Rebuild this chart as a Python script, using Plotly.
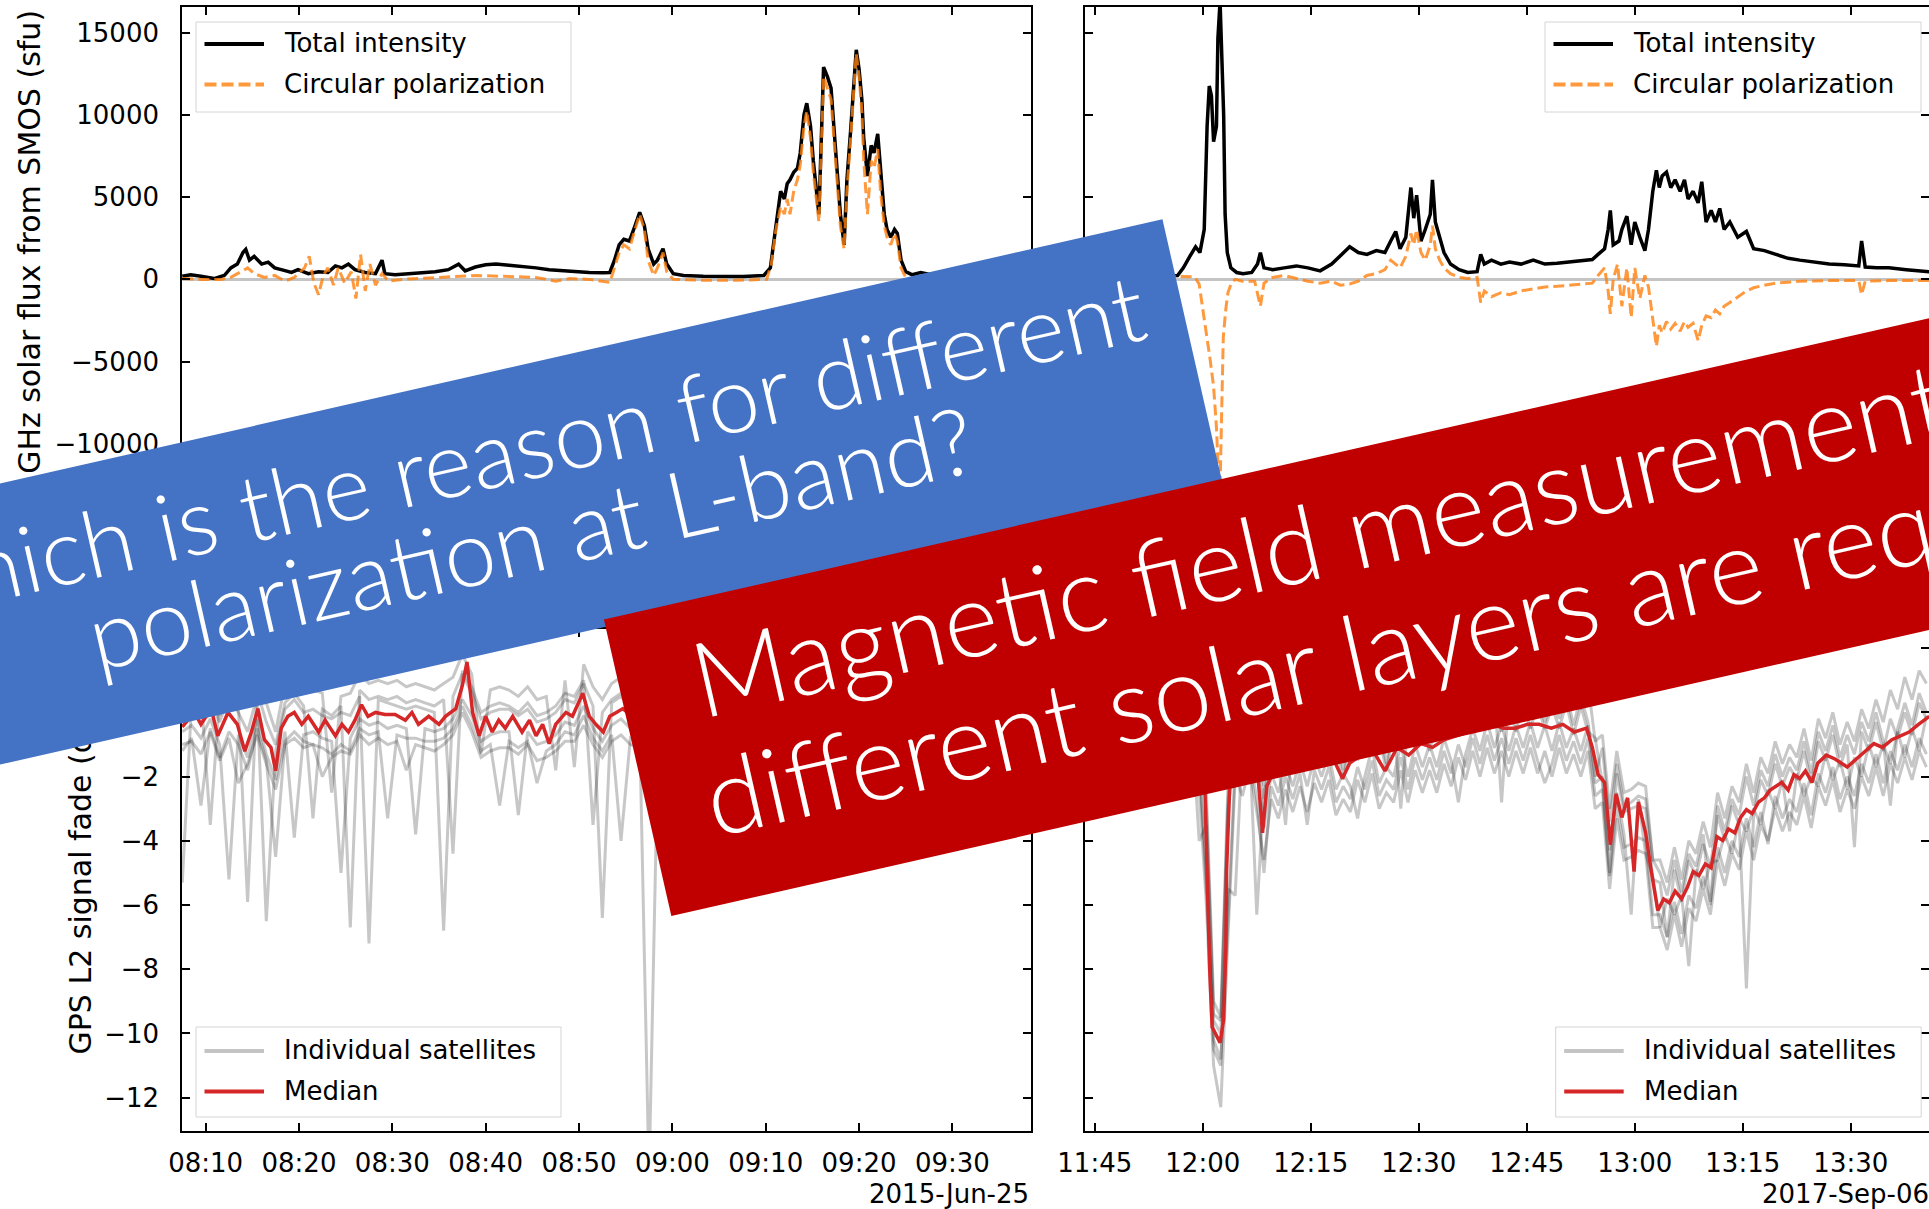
import math
import numpy as np
import pandas as pd
import plotly.graph_objects as go

# ---------------------------------------------------------------------------
# 2015-06-25 event -- SMOS 1.4 GHz solar flux (time: minutes after 00:00 UT, sfu)
# ---------------------------------------------------------------------------
flux_2015_total_t = [
    487.5, 488.4, 489.5, 490.9, 492.0, 492.7, 493.4, 494.0, 494.3, 494.7,
    495.2, 496.0, 496.7, 497.4, 498.1, 499.2, 499.9, 501.0, 502.1, 503.1,
    503.9, 504.6, 505.3, 506.0, 507.1, 508.2, 508.9, 509.2, 510.3, 511.7,
    513.2, 514.6, 516.0, 517.1, 517.8, 518.9, 520.0, 521.1, 522.5, 524.0,
    525.4, 526.8, 528.2, 529.7, 531.1, 532.6, 533.3, 533.8, 534.3, 534.8,
    535.4, 536.0, 536.5, 537.0, 537.4, 538.0, 538.4, 539.0, 539.4, 540.1,
    541.2, 543.3, 545.5, 547.6, 549.8, 550.5, 551.1, 551.6, 552.0, 552.3,
    552.6, 553.0, 553.4, 553.7, 554.1, 554.4, 554.8, 555.1, 555.7, 555.9,
    556.2, 556.6, 557.0, 557.3, 557.7, 558.0, 558.4, 558.7, 559.1, 559.5,
    559.7, 560.0, 560.3, 560.5, 560.9, 561.3, 561.6, 562.0, 562.3, 562.7,
    563.0, 563.4, 563.8, 564.1, 564.5, 565.0, 565.7, 566.6, 568.0, 571.0,
    575.0, 578.4]
flux_2015_total = [
    190, 280, 190, 50, 235, 700, 930, 1630, 1820, 1170,
    1400, 930, 1050, 700, 590, 420, 590, 350, 470, 420,
    820, 700, 930, 590, 420, 350, 1170, 350, 280, 330,
    420, 470, 590, 930, 520, 750, 890, 930, 860, 790,
    700, 590, 520, 470, 420, 400, 420, 1170, 2100, 2440,
    2330, 3260, 4070, 3260, 1860, 930, 1170, 1860, 930, 350,
    240, 190, 190, 170, 240, 700, 3260, 5350, 4890, 5820,
    6050, 6510, 6750, 7680, 10000, 10700, 9300, 7210, 3960, 7680,
    12900, 12330, 11630, 9300, 6510, 3960, 2100, 6050, 9070, 12330,
    13950, 12790, 10930, 8600, 6280, 8140, 7680, 8840, 6510, 3960,
    3030, 2560, 3030, 2790, 1170, 470, 280, 420, 250, 180,
    140, 110]

flux_2015_circ_t = [
    487.5, 489.5, 491.7, 492.7, 493.8, 494.5, 495.2, 496.3, 497.4, 498.5,
    499.5, 500.6, 501.1, 501.6, 502.1, 502.6, 503.1, 503.7, 504.2, 504.9,
    505.6, 506.1, 506.6, 507.1, 507.6, 508.2, 508.9, 509.6, 511.0, 512.5,
    514.6, 516.8, 518.9, 521.8, 525.4, 527.5, 529.0, 531.1, 533.3, 533.8,
    534.3, 534.8, 535.4, 536.0, 536.5, 537.0, 537.4, 538.0, 538.4, 539.0,
    539.4, 540.1, 543.3, 546.9, 550.1, 550.6, 551.1, 551.6, 552.0, 552.3,
    552.6, 553.0, 553.4, 553.7, 554.1, 554.4, 554.8, 555.1, 555.7, 555.9,
    556.2, 556.6, 557.0, 557.3, 557.7, 558.0, 558.4, 558.7, 559.1, 559.5,
    559.7, 560.0, 560.3, 560.5, 560.9, 561.3, 561.6, 562.0, 562.3, 562.7,
    563.0, 563.4, 563.8, 564.1, 564.5, 565.0, 565.9, 570.0, 578.4]
flux_2015_circ = [
    50, 0, 0, 120, 470, 700, 350, 120, 240, -110,
    120, 700, 1400, -230, -930, 240, 700, -350, 700, -230,
    470, -1160, 1510, -700, 930, -350, 350, -110, 0, 50,
    120, 190, 240, 190, 120, -110, 50, 0, -180, 700,
    1630, 2100, 1860, 3030, 3960, 3030, 1170, 240, 700, 1630,
    470, 0, -50, -50, 0, 930, 3030, 4420, 3960, 4890,
    3960, 5350, 6050, 6980, 9300, 10230, 8600, 6510, 3490, 6980,
    12330, 11630, 10930, 8600, 5820, 3260, 1860, 5350, 8600, 11860,
    13720, 12330, 10230, 7210, 3960, 7210, 6750, 7910, 5350, 3260,
    2560, 2100, 2790, 2330, 700, 120, 0, 0, 0]

# GPS L2 signal fade of the individual satellites (dB), one sample per minute
# starting 08:07:30 UT
gps_2015_first, gps_2015_last = 487.5, 577.5
gps_2015_sat1 = [
    -5.3, 0.3, -0.2, 0.4, -0.3, 0.5, 0.0, -0.6, 0.5, -6.5,
    -1.2, 0.1, 0.4, 0.0, 0.1, -0.1, -0.2, 0.0, -0.1, 0.5,
    -7.2, 0.4, 0.3, 0.2, 0.1, 0.2, 0.1, 0.0, -6.8, 0.5,
    1.2, 0.6, -0.2, 0.0, 0.1, 0.1, -0.1, 0.1, -0.3, -0.2,
    0.0, 0.4, 0.3, 0.9, 0.2, -6.4, 0.3, 0.5, 0.2, 0.1,
    0.3, 0.0, 0.2, 0.1, 0.3, 0.0, 0.2, 0.1, 0.2, 0.3,
    0.0, 0.1, 0.2, 0.1, 0.0, -0.3, -0.5, -0.2, -0.6, -0.4,
    -0.1, -0.5, -0.8, -0.3, -0.2, 0.0, 0.1, 0.2, 0.0, 0.1,
    0.2, 0.0, 0.1, 0.2, 0.1, 0.0, 0.2, 0.1, 0.0, 0.2,
    0.1]
gps_2015_sat2 = [
    -0.6, -0.4, -0.8, -0.2, -1.0, -5.2, -0.7, -1.4, -0.2, -1.3,
    -2.1, -0.6, -3.9, -0.7, -0.6, -0.8, -0.9, -5.0, -0.8, -0.2,
    -0.4, -0.3, -0.5, -0.4, -0.5, -3.8, -0.5, -0.6, -0.5, -0.2,
    0.4, -0.1, -0.9, -0.7, -0.6, -0.6, -3.2, -0.6, -1.0, -0.9,
    -0.7, -0.3, -0.4, 0.2, -0.5, -0.9, -0.4, -0.2, -0.5, -0.6,
    -14.5, -0.5, -0.4, -0.6, -0.5, -0.4, -0.6, -0.5, -0.4, -0.5,
    -0.6, -0.4, -0.5, -0.6, -0.7, -0.9, -1.2, -1.0, -1.3, -1.1,
    -0.9, -1.2, -1.5, -1.0, -0.8, -0.6, -0.5, -0.4, -0.6, -0.5,
    -0.4, -0.5, -0.6, -0.4, -0.5, -0.3, -0.4, -0.5, -0.6, -0.4,
    -0.5]
gps_2015_sat3 = [
    0.2, 0.6, 0.1, 0.7, -0.1, 0.6, 0.2, -5.9, 0.7, -0.3,
    -1.0, 0.3, 0.6, 0.2, -3.3, 0.1, -0.1, 0.2, -6.7, 0.7,
    0.4, 0.5, 0.4, 0.5, 0.3, 0.4, 0.3, 0.2, 0.4, -4.4,
    1.3, 0.8, 0.0, 0.2, 0.3, 0.2, 0.0, 0.3, -0.1, 0.0,
    0.2, 0.6, 0.5, 1.0, -3.5, 0.0, 0.4, 0.6, 0.3, 0.4,
    0.3, 0.5, 0.4, 0.3, 0.5, 0.4, 0.3, 0.5, 0.4, 0.3,
    0.4, 0.5, 0.3, 0.2, 0.3, 0.0, -0.2, 0.1, -0.3, -0.1,
    0.2, -0.2, -0.5, 0.0, 0.1, 0.3, 0.4, 0.3, 0.5, 0.4,
    0.3, 0.4, 0.5, 0.3, 0.4, 0.5, 0.3, 0.4, 0.3, 0.5,
    0.4]
gps_2015_sat4 = [
    -1.2, -0.8, -2.9, -0.5, -1.4, -0.6, -1.0, -1.8, -0.5, -1.5,
    -4.5, -0.9, -0.6, -0.9, -1.0, -1.1, -1.3, -1.0, -1.2, -0.5,
    -0.7, -0.6, -3.3, -0.7, -0.8, -0.8, -0.9, -0.9, -0.8, -0.5,
    0.2, -0.4, -1.2, -1.0, -2.9, -0.9, -1.1, -0.9, -2.2, -1.2,
    -1.0, -0.6, -0.7, -0.1, -0.8, -1.2, -0.7, -4.0, -0.8, -0.9,
    -0.8, -0.9, -0.7, -0.8, -0.9, -0.7, -0.8, -0.9, -0.8, -0.7,
    -0.8, -0.9, -0.7, -0.9, -1.0, -1.3, -1.6, -1.4, -1.8, -1.5,
    -1.2, -1.6, -2.0, -1.4, -1.1, -0.9, -0.8, -0.7, -0.9, -0.8,
    -0.7, -0.8, -0.9, -0.7, -0.8, -0.6, -0.7, -0.8, -0.9, -0.7,
    -0.8]
gps_2015_sat5 = [
    0.8, 1.2, 0.6, -3.5, 0.4, 1.1, 0.7, 0.2, 1.2, 0.3,
    -0.6, 0.9, 1.1, 0.8, 0.7, 0.6, -2.5, 0.5, 0.6, 1.2,
    0.9, 1.0, 0.9, 1.0, 0.8, 0.9, 0.8, 0.7, 0.9, 1.1,
    1.8, 1.2, -1.3, 0.7, 0.8, 0.7, 0.5, 0.8, 0.4, 0.5,
    -1.8, 1.0, -1.7, 1.5, 0.8, 0.4, 0.9, 1.1, 0.8, 0.9,
    0.8, 1.0, 0.9, 0.8, 1.0, 0.9, 0.8, 1.0, 0.9, 0.8,
    0.9, 1.0, 0.8, 0.7, 0.8, 0.5, 0.3, 0.6, 0.2, 0.4,
    0.7, 0.3, 0.0, 0.5, 0.6, 0.8, 0.9, 0.8, 1.0, 0.9,
    0.8, 0.9, 1.0, 0.8, 0.9, 1.0, 0.8, 0.9, 0.8, 1.0,
    0.9]
gps_2015_sat6 = [
    -1.0, -0.9, -1.3, -0.6, -1.5, -0.8, -2.2, -1.6, -0.7, -1.6,
    -2.4, -1.0, -0.8, -1.1, -1.0, -2.0, -1.4, -1.2, -1.3, -0.7,
    -1.0, -0.8, -1.0, -0.9, -1.8, -1.0, -1.1, -1.2, -1.0, -0.7,
    0.0, -0.6, -1.4, -1.2, -1.1, -1.1, -1.3, -1.0, -1.5, -1.4,
    -1.2, -0.9, -0.9, -0.4, -1.0, -1.4, -0.9, -0.7, -1.0, -1.1,
    -1.0, -1.1, -0.9, -1.0, -1.1, -0.9, -1.0, -1.1, -1.0, -0.9,
    -1.0, -1.1, -0.9, -1.1, -1.2, -1.5, -1.8, -1.6, -2.0, -1.7,
    -1.4, -1.8, -2.2, -1.6, -1.3, -1.1, -1.0, -0.9, -1.1, -1.0,
    -0.9, -1.0, -1.1, -0.9, -1.0, -0.8, -0.9, -1.0, -1.1, -0.9,
    -1.0]

gps_2015_median_t = [
    487.5, 488.8, 489.5, 490.6, 491.3, 492.4, 493.4, 494.2, 494.9, 495.6,
    496.3, 497.0, 497.5, 498.1, 498.8, 499.5, 500.3, 501.0, 502.1, 502.8,
    503.9, 504.6, 505.3, 506.0, 506.7, 507.4, 508.2, 509.2, 510.3, 511.4,
    512.1, 512.8, 513.9, 515.0, 515.7, 516.8, 517.5, 518.0, 518.6, 519.3,
    520.0, 520.7, 521.4, 522.1, 522.9, 523.9, 524.7, 525.4, 526.1, 526.8,
    527.5, 528.6, 529.3, 530.4, 531.1, 531.8, 532.6, 533.3, 534.0, 534.7,
    536.0, 538.0, 540.0, 544.0, 548.0, 552.0, 556.0, 560.0, 564.0, 570.0,
    578.4]
gps_2015_median = [
    -0.45, 0.0, -0.37, 0.12, -0.73, 0.0, -0.37, -1.21, -0.61, 0.12,
    -0.85, -1.09, -1.82, -0.49, -0.12, 0.0, -0.37, -0.12, -0.61, -0.24,
    -0.73, -0.37, -0.61, -0.24, 0.24, -0.12, 0.0, -0.06, -0.06, -0.24,
    0.0, -0.37, -0.12, -0.37, -0.12, 0.12, 0.84, 1.57, 0.0, -0.73,
    -0.12, -0.61, -0.24, -0.49, -0.12, -0.61, -0.24, -0.73, -0.37, -0.97,
    -0.37, 0.0, -0.12, 0.6, -0.12, -0.37, -0.61, -0.12, 0.0, 0.12,
    -0.2, -0.3, -0.2, -0.1, -0.2, -0.4, -0.7, -0.9, -0.3, -0.1,
    -0.1]

# ---------------------------------------------------------------------------
# 2017-09-06 event
# ---------------------------------------------------------------------------
flux_2017_total_t = [
    703.6, 708.0, 712.0, 716.5, 717.3, 718.2, 719.0, 719.6, 720.2, 720.6,
    720.9, 721.2, 721.5, 721.9, 722.1, 722.4, 722.6, 722.9, 723.1, 723.4,
    723.9, 724.7, 725.6, 726.8, 727.6, 728.0, 728.5, 729.7, 731.3, 733.0,
    734.6, 736.3, 737.9, 739.1, 740.4, 741.6, 742.8, 744.1, 745.3, 746.1,
    746.8, 747.4, 748.2, 748.9, 749.3, 749.7, 750.3, 750.9, 751.6, 751.9,
    752.3, 752.9, 753.5, 754.4, 755.6, 756.8, 758.1, 758.6, 759.1, 760.1,
    761.4, 762.6, 764.2, 765.9, 767.5, 769.2, 770.8, 772.5, 774.1, 774.9,
    775.8, 776.3, 776.6, 777.0, 777.8, 778.2, 778.9, 779.5, 780.0, 780.7,
    781.4, 781.9, 782.5, 783.0, 783.4, 783.8, 784.4, 785.0, 785.6, 786.3,
    786.9, 787.4, 788.1, 788.8, 789.3, 789.9, 790.6, 791.2, 791.8, 792.4,
    793.2, 794.3, 795.5, 796.5, 798.0, 799.6, 801.3, 802.9, 805.0, 807.0,
    809.1, 811.1, 811.5, 812.0, 813.6, 815.3, 817.7, 820.9]
flux_2017_total = [
    150, 150, 200, 240, 700, 1400, 1980, 1630, 3030, 9300,
    11750, 11160, 8370, 9300, 14650, 16900, 13490, 10000, 3960, 1630,
    700, 420, 350, 420, 930, 1630, 700, 590, 700, 820,
    700, 520, 930, 1400, 1980, 1630, 1520, 1750, 1630, 2330,
    2910, 1860, 2560, 5580, 3720, 5120, 2330, 3030, 3960, 6050,
    3490, 2560, 1630, 930, 590, 420, 470, 1520, 930, 1170,
    930, 1050, 930, 1170, 930, 980, 1050, 1120, 1210, 1520,
    1860, 3030, 4190, 2100, 2330, 3030, 3840, 2100, 3490, 2560,
    1750, 3030, 5350, 6630, 5580, 6280, 6510, 5580, 6050, 5350,
    6050, 4890, 5350, 4650, 5930, 3490, 4190, 3490, 4310, 3030,
    3490, 2560, 2910, 1860, 1750, 1520, 1280, 1170, 1050, 930,
    890, 820, 2330, 750, 700, 700, 590, 470]

flux_2017_circ_t = [
    703.6, 712.0, 716.5, 718.2, 718.9, 719.5, 720.0, 720.5, 721.0, 721.5,
    721.9, 722.15, 722.3, 722.45, 722.6, 722.85, 723.2, 723.5, 724.0, 724.5,
    725.5, 727.2, 728.0, 728.5, 729.7, 731.3, 733.0, 734.6, 736.3, 737.9,
    739.1, 740.4, 741.6, 742.8, 744.1, 745.3, 746.1, 746.8, 747.4, 748.2,
    748.9, 749.3, 749.7, 750.3, 750.9, 751.6, 751.9, 752.3, 752.9, 753.5,
    754.4, 755.6, 756.8, 758.1, 758.6, 759.1, 760.1, 761.4, 762.6, 764.2,
    765.9, 767.5, 769.2, 770.8, 772.5, 774.1, 774.9, 775.8, 776.3, 776.6,
    777.0, 777.6, 778.2, 778.9, 779.5, 780.0, 780.7, 781.4, 781.9, 782.5,
    783.0, 783.4, 783.8, 784.4, 785.0, 785.6, 786.3, 786.9, 787.4, 788.1,
    788.8, 789.3, 789.9, 790.6, 791.2, 791.8, 792.4, 793.2, 794.3, 795.5,
    796.5, 798.0, 799.6, 801.3, 802.9, 807.0, 811.1, 811.5, 812.0, 815.3,
    820.9]
flux_2017_circ = [
    100, 100, 190, 190, 150, -300, -1800, -3100, -4800, -6500,
    -9000, -11600, -14000, -11600, -7500, -3500, -1800, -800, -200, 0,
    -110, -110, -1620, -230, 120, 240, 50, -110, -230, -110,
    -350, -280, -110, 240, 350, 590, 1170, 930, 700, 1400,
    2790, 2100, 3030, 1630, 1170, 2100, 3260, 1860, 1170, 700,
    350, 120, 50, 120, -1400, -700, -1050, -810, -930, -700,
    -580, -460, -420, -350, -280, -230, 240, 700, -700, -2090,
    0, 930, -1630, 700, -2320, 700, -1160, 240, -460, -2320,
    -4070, -2790, -3250, -2560, -3020, -2670, -3140, -2560, -2910, -2670,
    -3720, -2790, -2210, -2320, -1860, -2090, -1630, -1400, -1050, -700,
    -510, -350, -230, -180, -110, -70, -70, -930, -110, -70,
    -70]

# GPS L2 signal fade of the individual satellites (dB), one sample per minute
# starting 11:43:30 UT
gps_2017_first, gps_2017_last = 703.5, 820.5
gps_2017_sat1 = [
    -0.5, -0.4, -0.6, -0.3, -0.5, -0.4, -0.6, -0.5, -0.3, -0.5,
    -0.4, -0.6, -0.5, -0.3, -0.6, -0.4, -4.0, -3.5, -9.6, -10.0,
    -3.0, -1.3, -0.4, -1.0, -6.3, -2.4, -2.0, -1.0, -1.7, -0.8,
    -1.7, -0.8, -1.5, -0.5, -1.5, -1.0, -2.1, -0.8, -1.5, -0.5,
    -1.2, -0.8, -1.8, -0.6, -1.2, -0.6, -1.1, -0.2, -1.2, -0.3,
    -0.9, -0.1, -0.7, 0.1, -0.6, 0.2, -0.5, 0.3, -0.6, 0.2,
    -0.6, 0.3, -0.5, 0.2, -0.5, 0.2, -0.5, 0.3, -0.7, 0.2,
    -0.6, -0.8, -2.2, -5.0, -1.9, -3.1, -3.0, -2.9, -3.0, -5.2,
    -5.3, -7.0, -4.9, -5.9, -4.6, -5.1, -4.1, -4.8, -3.2, -4.0,
    -2.9, -3.5, -8.6, -3.2, -2.1, -2.6, -1.6, -2.3, -1.7, -2.1,
    -1.2, -2.2, -0.9, -1.5, -0.7, -1.7, -1.0, -4.2, -0.6, -1.2,
    -0.3, -1.2, -0.2, -0.8, 0.0, -0.7, 0.3, -0.2]
gps_2017_sat2 = [
    -1.1, -1.0, -1.2, -0.9, -1.1, -1.0, -1.2, -1.1, -0.9, -1.1,
    -1.0, -1.2, -1.1, -0.9, -1.3, -1.4, -1.5, -5.0, -10.5, -11.0,
    -5.5, -5.7, -1.0, -1.7, -1.5, -3.6, -1.9, -2.5, -1.6, -2.3,
    -1.5, -2.3, -1.4, -2.0, -1.3, -2.4, -1.9, -2.3, -3.3, -2.0,
    -1.1, -2.2, -1.7, -2.0, -1.0, -2.0, -1.0, -1.7, -1.0, -1.7,
    -0.8, -1.5, -2.8, -1.3, -0.5, -1.2, -0.3, -1.1, -0.4, -1.2,
    -0.4, -1.1, -0.3, -1.1, -0.4, -1.2, -0.3, -1.1, -0.5, -1.2,
    -0.4, -2.2, -2.0, -4.3, -2.5, -3.8, -6.3, -2.7, -4.4, -5.1,
    -6.7, -5.8, -6.3, -5.7, -7.9, -4.9, -5.5, -4.7, -4.6, -3.8,
    -4.4, -3.3, -3.7, -3.0, -3.5, -2.4, -3.0, -2.1, -3.7, -1.9,
    -2.6, -2.0, -2.3, -1.3, -2.1, -1.5, -2.4, -1.4, -2.0, -1.0,
    -1.7, -1.0, -1.6, -0.6, -1.4, -0.5, -1.2, -0.1]
gps_2017_sat3 = [
    -0.2, -0.1, -0.3, 0.0, -0.2, -0.1, -0.3, -0.2, 0.0, -0.2,
    -0.1, -0.3, -0.2, 0.0, -0.3, -0.2, -0.1, -2.5, -9.0, -9.5,
    -2.2, -0.3, -0.9, 0.0, -1.4, -2.7, -1.0, -1.6, -3.5, -0.6,
    -1.4, -0.6, -1.3, -0.3, -1.2, -0.7, -1.8, -0.6, -1.2, -0.3,
    -1.0, -0.5, -1.6, -0.3, -3.0, -0.3, -0.9, 0.0, -0.9, 0.0,
    -0.7, 0.2, -0.5, 0.4, -0.3, 0.5, -0.2, 0.6, -2.8, 0.5,
    -0.3, 0.6, -0.2, 0.6, -0.3, 0.5, -0.2, 0.6, -0.4, 0.5,
    -0.3, -2.0, -1.1, -3.4, -1.6, -2.9, -2.8, -2.6, -2.7, -4.6,
    -5.0, -5.7, -4.6, -5.6, -4.4, -4.8, -3.8, -6.0, -2.9, -3.7,
    -2.7, -3.2, -2.0, -2.9, -1.8, -2.3, -1.3, -2.0, -1.4, -1.8,
    -0.9, -1.9, -0.6, -1.2, -0.4, -1.4, -0.7, -1.3, -0.3, -0.9,
    0.0, -0.9, -2.9, -0.5, 0.3, -0.4, 0.6, 0.0]
gps_2017_sat4 = [
    -1.5, -1.4, -1.6, -1.3, -1.5, -1.4, -1.6, -1.5, -1.3, -1.5,
    -1.4, -1.6, -1.5, -1.3, -1.6, -1.7, -1.6, -5.5, -10.2, -10.8,
    -6.5, -1.6, -2.2, -1.3, -2.7, -5.0, -2.3, -2.9, -2.0, -2.7,
    -1.9, -3.5, -1.8, -2.4, -1.7, -2.8, -2.3, -2.7, -1.7, -2.4,
    -1.5, -2.6, -2.1, -2.4, -1.4, -2.4, -1.4, -2.1, -1.4, -2.1,
    -1.2, -1.9, -1.0, -1.7, -0.8, -1.6, -0.7, -1.5, -0.8, -1.6,
    -0.8, -1.5, -0.7, -1.5, -2.2, -1.6, -0.7, -1.5, -0.9, -1.6,
    -0.8, -2.6, -2.4, -5.1, -2.9, -4.2, -4.1, -3.9, -4.0, -6.3,
    -6.3, -7.0, -5.9, -6.9, -5.7, -6.1, -5.1, -5.9, -4.2, -5.0,
    -4.0, -4.5, -3.3, -4.2, -3.1, -4.1, -2.6, -3.3, -2.7, -3.1,
    -2.2, -3.2, -1.9, -2.5, -1.7, -2.7, -2.0, -2.6, -1.6, -2.2,
    -1.3, -2.2, -1.2, -1.8, -1.0, -1.7, -0.8, -1.3]
gps_2017_sat5 = [
    0.2, 0.3, 0.1, 0.4, 0.2, 0.3, 0.1, 0.2, 0.4, 0.2,
    0.3, 0.1, 0.2, 0.4, 0.1, 0.0, -0.2, -3.0, -9.4, -9.6,
    -2.8, 0.1, -0.5, 0.4, -1.0, -2.3, -0.6, -1.2, -0.3, -1.0,
    -0.2, -1.0, -0.1, -0.7, 0.0, -1.1, -0.6, -1.0, 0.0, -0.7,
    0.2, -0.9, -0.4, -0.7, 0.3, -0.7, 0.3, -0.4, 0.3, -0.4,
    0.6, -0.2, 0.7, 0.0, 0.9, 0.1, 1.0, 0.2, 0.9, 0.1,
    0.9, 0.2, 1.0, 0.2, 0.9, 0.1, 1.0, 0.2, 0.8, 0.1,
    0.9, -0.9, -0.7, -3.0, -1.2, -2.5, -2.4, -2.2, -2.3, -4.6,
    -4.6, -5.3, -4.2, -5.2, -4.0, -4.4, -3.4, -4.2, -2.5, -3.3,
    -2.3, -2.8, -1.6, -2.5, -1.4, -1.9, -0.9, -1.6, -1.0, -1.4,
    -0.5, -1.5, -0.2, -0.8, 0.0, -1.0, -0.3, -0.9, 0.1, -0.5,
    0.4, -0.3, 0.7, 0.1, 1.1, 0.4, 1.3, 0.9]
gps_2017_sat6 = [
    -1.9, -1.8, -2.0, -1.7, -1.9, -1.8, -2.0, -1.9, -1.7, -1.9,
    -1.8, -2.0, -1.9, -1.7, -2.0, -2.1, -2.4, -6.0, -11.0, -12.3,
    -7.0, -2.0, -2.6, -1.7, -3.1, -4.6, -2.7, -3.3, -2.4, -3.1,
    -2.3, -3.1, -2.2, -2.8, -2.1, -3.2, -2.7, -3.1, -2.1, -2.8,
    -1.9, -3.0, -2.5, -2.8, -1.8, -2.8, -1.8, -2.5, -1.8, -2.5,
    -1.6, -2.3, -1.4, -2.1, -1.2, -2.0, -1.1, -1.9, -1.2, -2.0,
    -1.2, -1.9, -1.1, -1.9, -1.2, -2.0, -1.1, -1.9, -1.3, -2.0,
    -1.2, -3.0, -2.8, -5.5, -3.3, -4.6, -4.5, -4.3, -4.4, -6.7,
    -6.7, -7.4, -6.3, -7.3, -6.1, -6.5, -5.5, -6.3, -4.6, -5.4,
    -4.4, -4.9, -3.7, -4.6, -3.5, -4.0, -3.0, -3.7, -3.1, -3.5,
    -2.6, -3.6, -2.3, -2.9, -2.1, -3.1, -2.4, -3.0, -2.0, -2.6,
    -1.7, -2.6, -1.6, -2.2, -1.4, -2.1, -1.2, -1.7]

gps_2017_median_t = [
    703.6, 708.0, 712.0, 716.0, 719.0, 719.8, 720.2, 720.6, 720.96, 721.3,
    721.9, 722.4, 722.9, 723.2, 723.3, 723.8, 724.7, 726.4, 727.6, 728.3,
    728.9, 729.7, 731.3, 733.0, 734.6, 736.3, 737.9, 739.4, 740.4, 742.0,
    743.7, 745.3, 747.0, 748.6, 750.3, 751.9, 753.5, 755.2, 756.8, 758.5,
    760.1, 761.8, 763.4, 765.1, 766.7, 768.4, 770.0, 771.6, 773.3, 774.1,
    774.9, 775.8, 776.6, 777.4, 778.2, 779.0, 779.9, 780.5, 781.5, 782.3,
    783.2, 784.0, 784.8, 785.6, 786.5, 787.3, 788.1, 788.9, 789.8, 790.6,
    791.4, 792.2, 793.0, 793.9, 794.7, 795.5, 796.3, 797.2, 798.0, 798.8,
    799.6, 800.4, 801.3, 802.1, 802.9, 803.7, 804.6, 805.4, 806.6, 807.8,
    809.5, 810.7, 812.0, 813.2, 814.4, 815.7, 816.9, 818.1, 819.4, 820.9]
gps_2017_median = [
    -0.8, -0.7, -0.8, -0.7, -0.8, -0.7, -1.58, -4.96, -7.99, -9.8,
    -10.04, -10.29, -9.56, -7.38, -4.96, -1.94, -1.2, -1.0, -1.8, -3.75,
    -2.3, -1.9, -1.7, -1.6, -1.58, -1.33, -1.33, -2.06, -1.58, -1.33,
    -1.21, -1.82, -1.09, -1.33, -0.97, -1.09, -0.85, -0.73, -0.61, -0.49,
    -0.37, -0.49, -0.49, -0.37, -0.37, -0.49, -0.37, -0.61, -0.49, -1.09,
    -1.94, -2.18, -4.12, -2.54, -3.27, -2.66, -4.96, -2.79, -3.75, -4.96,
    -6.17, -5.81, -5.93, -5.57, -5.81, -5.45, -4.96, -5.08, -4.72, -4.84,
    -3.87, -3.99, -3.63, -3.75, -3.27, -3.03, -3.15, -2.79, -2.66, -2.42,
    -2.30, -2.18, -2.42, -1.94, -2.06, -1.82, -2.18, -1.58, -1.33, -1.45,
    -1.70, -1.45, -1.21, -0.97, -1.09, -0.85, -0.73, -0.61, -0.37, -0.12]

# Axis ticks
ticks_2015_min = [490, 500, 510, 520, 530, 540, 550, 560, 570]
ticks_2015_txt = ["08:10", "08:20", "08:30", "08:40", "08:50", "09:00", "09:10", "09:20", "09:30"]
ticks_2017_min = [705, 720, 735, 750, 765, 780, 795, 810]
ticks_2017_txt = ["11:45", "12:00", "12:15", "12:30", "12:45", "13:00", "13:15", "13:30"]
flux_ticks = [-10000, -5000, 0, 5000, 10000, 15000]
fade_ticks = [-12, -10, -8, -6, -4, -2, 0, 2]

# ---------------------------------------------------------------------------
W, H = 1929, 1209
FONT = "DejaVu Sans"
BANNER_FONT = "Lato"
BLACK = "#000000"
ORANGE = "rgba(255,127,14,0.80)"
RED = "#d62728"
SAT = "rgba(0,0,0,0.22)"

for name, a, b in [("flux_2015_total", flux_2015_total_t, flux_2015_total),
                   ("flux_2015_circ", flux_2015_circ_t, flux_2015_circ),
                   ("flux_2017_total", flux_2017_total_t, flux_2017_total),
                   ("flux_2017_circ", flux_2017_circ_t, flux_2017_circ),
                   ("gps_2015_median", gps_2015_median_t, gps_2015_median),
                   ("gps_2017_median", gps_2017_median_t, gps_2017_median)]:
    assert len(a) == len(b), (name, len(a), len(b))

grid_2015 = np.arange(gps_2015_first, gps_2015_last + 0.5, 1.0)
grid_2017 = np.arange(gps_2017_first, gps_2017_last + 0.5, 1.0)
sats_2015 = [gps_2015_sat1, gps_2015_sat2, gps_2015_sat3, gps_2015_sat4, gps_2015_sat5, gps_2015_sat6]
sats_2017 = [gps_2017_sat1, gps_2017_sat2, gps_2017_sat3, gps_2017_sat4, gps_2017_sat5, gps_2017_sat6]
for s in sats_2015:
    assert len(s) == len(grid_2015), len(s)
for s in sats_2017:
    assert len(s) == len(grid_2017), len(s)


def stamp(day, minutes):
    return pd.Timestamp(day) + pd.to_timedelta(np.asarray(minutes, dtype=float), unit="min")


D15, D17 = "2015-06-25", "2017-09-06"

fig = go.Figure()

# upper panels: total intensity and circular polarization
fig.add_trace(go.Scatter(x=stamp(D15, flux_2015_total_t), y=flux_2015_total, mode="lines",
                         line=dict(color=BLACK, width=3.5), xaxis="x", yaxis="y"))
fig.add_trace(go.Scatter(x=stamp(D15, flux_2015_circ_t), y=flux_2015_circ, mode="lines",
                         line=dict(color=ORANGE, width=3, dash="11px,5px"), xaxis="x", yaxis="y"))
fig.add_trace(go.Scatter(x=stamp(D17, flux_2017_total_t), y=flux_2017_total, mode="lines",
                         line=dict(color=BLACK, width=3.5), xaxis="x3", yaxis="y3"))
fig.add_trace(go.Scatter(x=stamp(D17, flux_2017_circ_t), y=flux_2017_circ, mode="lines",
                         line=dict(color=ORANGE, width=3, dash="11px,5px"), xaxis="x3", yaxis="y3"))

# lower panels: individual satellites and their median
for s in sats_2015:
    fig.add_trace(go.Scatter(x=stamp(D15, grid_2015), y=s, mode="lines",
                             line=dict(color=SAT, width=3), xaxis="x2", yaxis="y2"))
fig.add_trace(go.Scatter(x=stamp(D15, gps_2015_median_t), y=gps_2015_median, mode="lines",
                         line=dict(color=RED, width=3.5), xaxis="x2", yaxis="y2"))
for s in sats_2017:
    fig.add_trace(go.Scatter(x=stamp(D17, grid_2017), y=s, mode="lines",
                             line=dict(color=SAT, width=3), xaxis="x4", yaxis="y4"))
fig.add_trace(go.Scatter(x=stamp(D17, gps_2017_median_t), y=gps_2017_median, mode="lines",
                         line=dict(color=RED, width=3.5), xaxis="x4", yaxis="y4"))

# zero-flux reference lines
for xa, ya in [("x", "y"), ("x3", "y3")]:
    fig.add_shape(type="line", xref=f"{xa} domain", yref=ya, x0=0, x1=1, y0=0, y1=0,
                  line=dict(color="#c4c4c4", width=3), layer="below")

# ---------------------------------------------------------------------------
# panel geometry (pixels)
COL_L = (182, 1031)
COL_R = (1084.7, 1929)
ROW_TOP = (7, 531)
ROW_BOT = (629, 1131)
FLUX_RANGE = [-15286, 16549]
FADE_RANGE = [-13.04, 2.60]


def xdom(c):
    return [c[0] / W, c[1] / W]


def ydom(r):
    return [1 - r[1] / H, 1 - r[0] / H]


def minus(v):
    return str(v).replace("-", "\u2212")


axis_common = dict(showline=True, linecolor="black", linewidth=1.6, ticks="inside", ticklen=8,
                   tickwidth=1.6, tickcolor="black", mirror="ticks", showgrid=False, zeroline=False,
                   automargin=False, tickfont=dict(family=FONT, size=26, color="black"))

xr15 = stamp(D15, [487.47, 578.42])
xr17 = stamp(D17, [703.6, 820.86])
tv15 = stamp(D15, ticks_2015_min)
tv17 = stamp(D17, ticks_2017_min)

fig.update_layout(
    xaxis=dict(axis_common, domain=xdom(COL_L), anchor="y", range=xr15, tickvals=tv15,
               showticklabels=False),
    xaxis2=dict(axis_common, domain=xdom(COL_L), anchor="y2", range=xr15, tickvals=tv15,
                ticktext=ticks_2015_txt, ticklabelstandoff=8),
    xaxis3=dict(axis_common, domain=xdom(COL_R), anchor="y3", range=xr17, tickvals=tv17,
                showticklabels=False),
    xaxis4=dict(axis_common, domain=xdom(COL_R), anchor="y4", range=xr17, tickvals=tv17,
                ticktext=ticks_2017_txt, ticklabelstandoff=8),
    yaxis=dict(axis_common, domain=ydom(ROW_TOP), anchor="x", range=FLUX_RANGE, tickvals=flux_ticks,
               ticktext=[minus(v) for v in flux_ticks], ticklabelstandoff=16),
    yaxis2=dict(axis_common, domain=ydom(ROW_BOT), anchor="x2", range=FADE_RANGE, tickvals=fade_ticks,
                ticktext=[minus(v) for v in fade_ticks], ticklabelstandoff=16),
    yaxis3=dict(axis_common, domain=ydom(ROW_TOP), anchor="x3", range=FLUX_RANGE, tickvals=flux_ticks,
                showticklabels=False),
    yaxis4=dict(axis_common, domain=ydom(ROW_BOT), anchor="x4", range=FADE_RANGE, tickvals=fade_ticks,
                showticklabels=False),
)


def ann(text, px, py, size=26, xanchor="left", yanchor="middle", angle=0, family=FONT, color="black", **kw):
    fig.add_annotation(text=text, x=px / W, y=1 - py / H, xref="paper", yref="paper", showarrow=False,
                       xanchor=xanchor, yanchor=yanchor, textangle=angle, borderpad=0, borderwidth=0,
                       font=dict(family=family, size=size, color=color, **kw.pop("font_extra", {})), **kw)


# dates under the time axes
ann("2015-Jun-25", 1029, 1194, xanchor="right")
ann("2017-Sep-06", 1929, 1194, xanchor="right")

# y-axis titles
ann("1.4 GHz solar flux from SMOS (sfu)", 29.5, 270.6, size=30, xanchor="center", angle=-90)
ann("GPS L2 signal fade (dB)", 79.5, 878, size=30, xanchor="center", angle=-90)


# legends
def legend(x0, y0, x1, y1, items):
    fig.add_shape(type="rect", xref="paper", yref="paper", x0=x0 / W, x1=x1 / W, y0=1 - y1 / H, y1=1 - y0 / H,
                  line=dict(color="#d4d4d4", width=1), fillcolor="rgba(255,255,255,0.85)", layer="above")
    for label, color, dash, yc in items:
        fig.add_shape(type="line", xref="paper", yref="paper", x0=(x0 + 8.5) / W, x1=(x0 + 68) / W,
                      y0=1 - yc / H, y1=1 - yc / H, line=dict(color=color, width=4, dash=dash), layer="above")
        ann(label, x0 + 88, yc - 1)


legend(196, 22, 571, 112, [("Total intensity", BLACK, "solid", 44),
                           ("Circular polarization", ORANGE, "12px,5px", 84.5)])
legend(1545, 22, 1921, 112, [("Total intensity", BLACK, "solid", 44),
                             ("Circular polarization", ORANGE, "12px,5px", 84.5)])
legend(196, 1027, 561, 1117, [("Individual satellites", "#c4c4c4", "solid", 1051),
                              ("Median", RED, "solid", 1091.5)])
legend(1555.7, 1027, 1921.2, 1117, [("Individual satellites", "#c4c4c4", "solid", 1051),
                                    ("Median", RED, "solid", 1091.5)])

# ---------------------------------------------------------------------------
# tilted call-out banners laid over the figure
TILT = math.atan(0.2275)
TILT_DEG = math.degrees(TILT)
CT, ST = math.cos(TILT), math.sin(TILT)
ASC, DESC = 0.987, 0.213


def to_rot(px, py):
    return px * CT - py * ST, px * ST + py * CT


def from_rot(a, p):
    return a * CT + p * ST, -a * ST + p * CT


def banner(a0, a1, p0, p1, color):
    cx, cy = from_rot((a0 + a1) / 2, (p0 + p1) / 2)
    ann("\u00a0", cx, cy, xanchor="center", angle=-TILT_DEG, width=a1 - a0, height=p1 - p0, bgcolor=color)


def banner_line_centered(text, a_center, baseline, size):
    cx, cy = from_rot(a_center, baseline - (ASC - DESC) / 2 * size)
    ann(text, cx, cy, size=size, xanchor="center", angle=-TILT_DEG, family=BANNER_FONT, color="white",
        font_extra=dict(weight=300))


def banner_line_left(text, a_start, baseline, size):
    x_left, _ = from_rot(a_start, baseline - ASC * size)
    _, y_bottom = from_rot(a_start, baseline + DESC * size)
    ann(text, x_left, y_bottom, size=size, xanchor="left", yanchor="bottom", angle=-TILT_DEG,
        family=BANNER_FONT, color="white", font_extra=dict(weight=300))


blue_a1, blue_p0 = to_rot(1162.7, 219.3)
_, blue_p1 = to_rot(0, 765)
blue_center = 398.5
banner(2 * blue_center - blue_a1, blue_a1, blue_p0, blue_p1, "#4472c4")
banner_line_centered("Which is the reason for different", blue_center, 585, 93)
banner_line_centered("polarization at L-band?", blue_center, 676, 93)

red_a0, red_p0 = to_rot(603.5, 619.3)
_, red_p1 = to_rot(670.8, 915.7)
banner(red_a0, 2100, red_p0, red_p1, "#c00000")
banner_line_left("Magnetic field measurements at", 524.7, 856.5, 105)
banner_line_left("different solar layers are required", 511.2, 974.5, 105)

fig.update_layout(width=W, height=H, margin=dict(l=0, r=0, t=0, b=0, autoexpand=False), showlegend=False,
                  paper_bgcolor="white", plot_bgcolor="white")

fig.write_html("out.html")
